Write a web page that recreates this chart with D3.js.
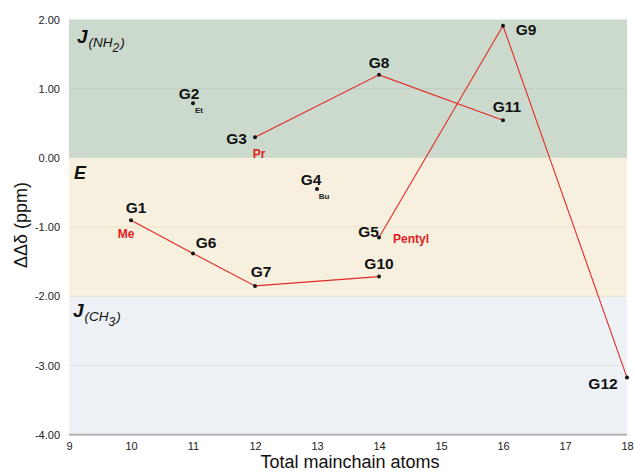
<!DOCTYPE html>
<html><head><meta charset="utf-8">
<script src="https://cdn.jsdelivr.net/npm/d3@7"></script>
<style>body{margin:0;background:#fff;} svg{font-family:"Liberation Sans",Arial,sans-serif;}</style>
</head><body>
<svg id="c" width="634" height="473"></svg>
<script>
// ---- data ----
const xTicks = [9,10,11,12,13,14,15,16,17,18];
const yTicks = [2,1,0,-1,-2,-3,-4];
const yTickLabels = ["2.00","1.00","0.00","-1.00","-2.00","-3.00","-4.00"];
const pointNames = ["G1","G2","G3","G4","G5","G6","G7","G8","G9","G10","G11","G12"];
const pointX =     [10,   11,   12,   13,   14,    11,    12,    14,   16,   14,    16,   18];
const pointY =     [-0.90,0.79, 0.30, -0.45,-1.15, -1.38, -1.85, 1.20, 1.91, -1.715, 0.545,-3.175];
const series = [["G1","G6","G7","G10"],["G3","G8","G11"],["G5","G9","G12"]];
const substituents = [["G1","Me",true],["G2","Et",false],["G3","Pr",true],["G4","Bu",false],["G5","Pentyl",true]];
const bands = [{from:0,to:2,name:"NH2"},{from:-2,to:0,name:"E"},{from:-4,to:-2,name:"CH3"}];

// ---- layout / style ----
const W=634,H=473, m={l:69,r:7,t:19.5,b:38.3};
const svg=d3.select("#c");
const x=d3.scaleLinear().domain([9,18]).range([m.l,W-m.r]);
const y=d3.scaleLinear().domain([-4,2]).range([H-m.b,m.t]);
const bandColors={NH2:"#cbdacd",E:"#f7f0df",CH3:"#eef1f6"};
const labelOff={G1:[5,-7,"middle"],G2:[-4,-4,"middle"],G3:[-8,7,"end"],G4:[-6,-4,"middle"],G5:[0,0,"end"],
  G6:[13,-5,"middle"],G7:[6,-9,"middle"],G8:[0,-7,"middle"],G9:[23,9,"middle"],G10:[0,-8,"middle"],G11:[4,-8,"middle"],G12:[-24,11,"middle"]};
const subOff={G1:[-5,18,"middle",12],G2:[6,10,"middle",8],G3:[4,21,"middle",12],G4:[7,10,"middle",8],G5:[14,6,"start",12]};

const pts=pointNames.map((n,i)=>({name:n,x:pointX[i],y:pointY[i]}));
const byName=Object.fromEntries(pts.map(p=>[p.name,p]));

// bands
svg.selectAll("rect.band").data(bands).join("rect")
  .attr("x",x(9)).attr("width",x(18)-x(9))
  .attr("y",d=>y(d.to)).attr("height",d=>y(d.from)-y(d.to))
  .attr("fill",d=>bandColors[d.name]);

// gridlines
svg.selectAll("line.grid").data([1,-1,-3]).join("line")
  .attr("x1",x(9)).attr("x2",x(18)).attr("y1",d=>y(d)).attr("y2",d=>y(d))
  .attr("stroke","#000").attr("stroke-opacity",0.06);
svg.append("line").attr("x1",x(9)).attr("x2",x(18)).attr("y1",y(-2)).attr("y2",y(-2))
  .attr("stroke","#e6dfc8").attr("stroke-width",1);

// bottom axis line
svg.append("line").attr("x1",x(9)).attr("x2",x(18)).attr("y1",y(-4)).attr("y2",y(-4))
  .attr("stroke","#b3b3b3").attr("stroke-width",2);

// y tick labels
const yAxis=d3.axisLeft(y).tickValues(yTicks).tickFormat((d,i)=>yTickLabels[i]).tickSize(0).tickPadding(9);
const ga=svg.append("g").attr("transform",`translate(${x(9)},0)`).call(yAxis);
ga.select(".domain").remove();
ga.selectAll("text").attr("font-size",11).attr("fill","#222").attr("font-family","Liberation Sans, Arial");

const xAxis=d3.axisBottom(x).tickValues(xTicks).tickFormat(d3.format("d")).tickSize(0).tickPadding(8);
const gx=svg.append("g").attr("transform",`translate(0,${y(-4)})`).call(xAxis);
gx.select(".domain").remove();
gx.selectAll("text").attr("font-size",11).attr("fill","#222").attr("font-family","Liberation Sans, Arial");

// axis titles
svg.append("text").attr("x",350).attr("y",468).attr("text-anchor","middle")
  .attr("font-size",18).attr("fill","#111").text("Total mainchain atoms");
svg.append("text").attr("transform","translate(27,225) rotate(-90)").attr("text-anchor","middle")
  .attr("font-size",18).attr("fill","#111").text("ΔΔδ (ppm)");

// band labels
function jLabel(px,py,sub,subNum){
  const t=svg.append("text").attr("x",px).attr("y",py).attr("font-style","italic").attr("fill","#111");
  t.append("tspan").attr("font-size",19).attr("font-weight","bold").text("J");
  t.append("tspan").attr("font-size",13.5).attr("dy",4).attr("dx",1).text("("+sub);
  t.append("tspan").attr("font-size",12).attr("dy",5).text(subNum);
  t.append("tspan").attr("font-size",13.5).attr("dy",-5).attr("dx",1).text(")");
}
jLabel(77,43,"NH","2");
svg.append("text").attr("x",74).attr("y",179).attr("font-style","italic").attr("font-weight","bold")
  .attr("font-size",18).attr("fill","#111").text("E");
jLabel(73,317,"CH","3");

// lines
const line=d3.line().x(d=>x(d.x)).y(d=>y(d.y));
svg.selectAll("path.s").data(series).join("path")
  .attr("d",s=>line(s.map(n=>byName[n]))).attr("fill","none")
  .attr("stroke","#e32a24").attr("stroke-width",1.1);

// points
svg.selectAll("circle.p").data(pts).join("circle")
  .attr("cx",d=>x(d.x)).attr("cy",d=>y(d.y)).attr("r",2).attr("fill","#111");

// point labels
svg.selectAll("text.pl").data(pts).join("text")
  .attr("x",d=>x(d.x)+labelOff[d.name][0]).attr("y",d=>y(d.y)+labelOff[d.name][1])
  .attr("text-anchor",d=>labelOff[d.name][2])
  .attr("font-size",15.5).attr("font-weight","bold").attr("fill","#111").text(d=>d.name);

// substituent labels
svg.selectAll("text.sl").data(substituents).join("text")
  .attr("x",d=>x(byName[d[0]].x)+subOff[d[0]][0]).attr("y",d=>y(byName[d[0]].y)+subOff[d[0]][1])
  .attr("text-anchor",d=>subOff[d[0]][2]).attr("font-size",d=>subOff[d[0]][3])
  .attr("font-weight","bold").attr("fill",d=>d[2]?"#e02020":"#222").text(d=>d[1]);
</script>
</body></html>
